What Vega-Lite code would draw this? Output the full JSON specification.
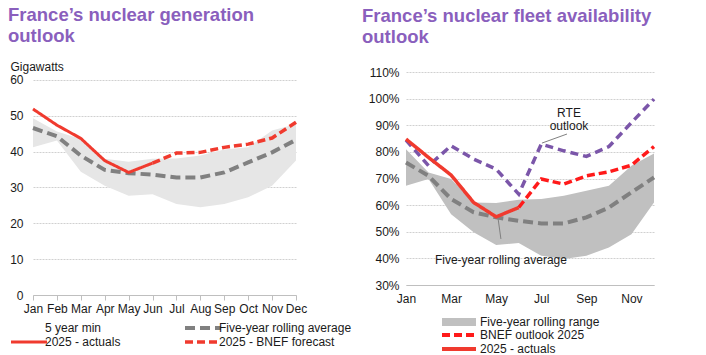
{
  "$schema": "https://vega.github.io/schema/vega-lite/v6.json",
  "padding": {"left": 7, "top": 5, "right": 0, "bottom": 0},
  "spacing": 10,
  "config": {
    "font": "Liberation Sans",
    "view": {"stroke": null},
    "axis": {"labelFontSize": 12, "labelColor": "#1a1a1a", "labelFont": "Liberation Sans", "titleFont": "Liberation Sans"},
    "legend": {"labelFontSize": 12, "labelColor": "#1a1a1a", "labelFont": "Liberation Sans", "padding": 0}
  },
  "resolve": {
    "scale": {"x": "independent", "y": "independent", "color": "independent", "fill": "independent", "strokeDash": "independent", "strokeWidth": "independent"},
    "legend": {"color": "independent", "fill": "independent", "strokeDash": "independent", "strokeWidth": "independent"}
  },
  "datasets": {
    "lband": [
      {"m": 1, "lo": 41.2, "v": 49.3}, {"m": 2, "lo": 43.1, "v": 45.6}, {"m": 3, "lo": 34.4, "v": 43.5},
      {"m": 4, "lo": 30.5, "v": 38.0}, {"m": 5, "lo": 27.7, "v": 37.2}, {"m": 6, "lo": 28.1, "v": 38.0},
      {"m": 7, "lo": 25.4, "v": 38.1}, {"m": 8, "lo": 24.5, "v": 38.9}, {"m": 9, "lo": 25.4, "v": 40.6},
      {"m": 10, "lo": 27.3, "v": 41.2}, {"m": 11, "lo": 30.5, "v": 45.9}, {"m": 12, "lo": 37.5, "v": 47.7}
    ],
    "llines": [
      {"s": "Five-year rolling average", "m": 1, "v": 46.6}, {"s": "Five-year rolling average", "m": 2, "v": 44.3},
      {"s": "Five-year rolling average", "m": 3, "v": 38.9}, {"s": "Five-year rolling average", "m": 4, "v": 34.9},
      {"s": "Five-year rolling average", "m": 5, "v": 34.0}, {"s": "Five-year rolling average", "m": 6, "v": 33.6},
      {"s": "Five-year rolling average", "m": 7, "v": 32.8}, {"s": "Five-year rolling average", "m": 8, "v": 32.8},
      {"s": "Five-year rolling average", "m": 9, "v": 34.2}, {"s": "Five-year rolling average", "m": 10, "v": 37.0},
      {"s": "Five-year rolling average", "m": 11, "v": 39.8}, {"s": "Five-year rolling average", "m": 12, "v": 43.3},
      {"s": "2025 - BNEF forecast", "m": 6, "v": 36.8}, {"s": "2025 - BNEF forecast", "m": 7, "v": 39.6},
      {"s": "2025 - BNEF forecast", "m": 8, "v": 39.8}, {"s": "2025 - BNEF forecast", "m": 9, "v": 41.2},
      {"s": "2025 - BNEF forecast", "m": 10, "v": 42.1}, {"s": "2025 - BNEF forecast", "m": 11, "v": 43.8},
      {"s": "2025 - BNEF forecast", "m": 12, "v": 48.2},
      {"s": "2025 - actuals", "m": 1, "v": 51.9}, {"s": "2025 - actuals", "m": 2, "v": 47.4},
      {"s": "2025 - actuals", "m": 3, "v": 43.7}, {"s": "2025 - actuals", "m": 4, "v": 37.5},
      {"s": "2025 - actuals", "m": 5, "v": 34.2}, {"s": "2025 - actuals", "m": 6, "v": 36.8}
    ],
    "rband": [
      {"m": 1, "lo": 67.3, "v": 81.0}, {"m": 2, "lo": 69.8, "v": 72.3}, {"m": 3, "lo": 56.6, "v": 69.8},
      {"m": 4, "lo": 49.8, "v": 61.0}, {"m": 5, "lo": 45.0, "v": 60.8}, {"m": 6, "lo": 45.8, "v": 62.0},
      {"m": 7, "lo": 41.0, "v": 62.3}, {"m": 8, "lo": 39.8, "v": 63.5}, {"m": 9, "lo": 41.0, "v": 65.4},
      {"m": 10, "lo": 44.1, "v": 67.3}, {"m": 11, "lo": 49.1, "v": 74.8}, {"m": 12, "lo": 61.0, "v": 79.4}
    ],
    "ravg": [
      {"m": 1, "v": 76.0}, {"m": 2, "v": 71.0}, {"m": 3, "v": 62.3}, {"m": 4, "v": 57.3}, {"m": 5, "v": 55.4}, {"m": 6, "v": 54.1},
      {"m": 7, "v": 53.1}, {"m": 8, "v": 53.1}, {"m": 9, "v": 55.4}, {"m": 10, "v": 59.1}, {"m": 11, "v": 64.8}, {"m": 12, "v": 70.4}
    ],
    "rrte": [
      {"m": 1, "v": 84.4}, {"m": 2, "v": 74.8}, {"m": 3, "v": 82.3}, {"m": 4, "v": 77.3}, {"m": 5, "v": 73.5}, {"m": 6, "v": 64.1},
      {"m": 7, "v": 82.9}, {"m": 8, "v": 80.4}, {"m": 9, "v": 78.3}, {"m": 10, "v": 82.0}, {"m": 11, "v": 91.0}, {"m": 12, "v": 99.8}
    ],
    "rlines": [
      {"s": "BNEF outlook 2025", "m": 6, "v": 59.1}, {"s": "BNEF outlook 2025", "m": 7, "v": 69.8},
      {"s": "BNEF outlook 2025", "m": 8, "v": 67.9}, {"s": "BNEF outlook 2025", "m": 9, "v": 71.0},
      {"s": "BNEF outlook 2025", "m": 10, "v": 72.5}, {"s": "BNEF outlook 2025", "m": 11, "v": 75.0},
      {"s": "BNEF outlook 2025", "m": 12, "v": 82.0},
      {"s": "2025 - actuals", "m": 1, "v": 84.8}, {"s": "2025 - actuals", "m": 2, "v": 77.9},
      {"s": "2025 - actuals", "m": 3, "v": 71.3}, {"s": "2025 - actuals", "m": 4, "v": 61.0},
      {"s": "2025 - actuals", "m": 5, "v": 55.6}, {"s": "2025 - actuals", "m": 6, "v": 59.1}
    ]
  },
  "hconcat": [
    {
      "width": 263,
      "height": 223,
      "title": {
        "text": ["France’s nuclear generation", "outlook"],
        "anchor": "start", "frame": "group", "dx": -25, "offset": 15,
        "fontSize": 18.5, "fontWeight": "bold", "color": "#8a5fbd", "lineHeight": 21, "font": "Liberation Sans"
      },
      "encoding": {
        "x": {"field": "m", "type": "quantitative", "scale": {"domain": [1, 12], "nice": false, "zero": false},
          "axis": {"values": [1,2,3,4,5,6,7,8,9,10,11,12], "labelExpr": "timeFormat(datetime(2025, datum.value - 1, 1), '%b')",
            "title": null, "grid": false, "domainColor": "#bfbfbf", "tickColor": "#bfbfbf", "tickSize": 5, "labelPadding": 3, "labelOverlap": false, "labelFlush": false}},
        "y": {"field": "v", "type": "quantitative", "scale": {"domain": [0, 62.23], "nice": false},
          "axis": {"values": [0,10,20,30,40,50,60], "title": "Gigawatts", "titleAngle": 0, "titleAlign": "left", "titleBaseline": "middle",
            "titleX": -23, "titleY": -6, "titleFontWeight": "normal", "titleFontSize": 12, "titleColor": "#1a1a1a",
            "domain": false, "ticks": false, "labelPadding": 10, "gridColor": "#d0d0d0", "gridDash": [2, 1]}}
      },
      "layer": [
        {
          "data": {"name": "lband"},
          "mark": {"type": "area", "color": "#e6e6e6"},
          "encoding": {"y2": {"field": "lo"}}
        },
        {
          "data": {"name": "llines"},
          "mark": {"type": "line"},
          "encoding": {
            "color": {"field": "s", "type": "nominal",
              "scale": {"domain": ["5 year min", "Five-year rolling average", "2025 - actuals", "2025 - BNEF forecast"],
                "range": ["#ffffff", "#808080", "#f03a2e", "#f03a2e"]},
              "legend": {"title": null, "orient": "none", "legendX": -26, "legendY": 250, "columns": 2, "direction": "horizontal",
                "symbolType": "M-1,0H17", "symbolSize": 16, "columnPadding": 56, "rowPadding": -3, "labelOffset": 26}},
            "strokeDash": {"field": "s", "type": "nominal",
              "scale": {"domain": ["5 year min", "Five-year rolling average", "2025 - actuals", "2025 - BNEF forecast"],
                "range": [[1, 0], [10, 5], [1, 0], [8, 4]]},
              "legend": {"title": null, "orient": "none", "legendX": -26, "legendY": 250, "columns": 2, "direction": "horizontal",
                "symbolType": "M-1,0H17", "symbolSize": 16, "columnPadding": 56, "rowPadding": -3, "labelOffset": 26}},
            "strokeWidth": {"field": "s", "type": "nominal",
              "scale": {"type": "ordinal", "domain": ["5 year min", "Five-year rolling average", "2025 - actuals", "2025 - BNEF forecast"],
                "range": [4, 4, 3, 3.5]},
              "legend": {"title": null, "orient": "none", "legendX": -26, "legendY": 250, "columns": 2, "direction": "horizontal",
                "symbolType": "M-1,0H17", "symbolSize": 16, "columnPadding": 56, "rowPadding": -3, "labelOffset": 26}}
          }
        }
      ]
    },
    {
      "width": 248,
      "height": 213,
      "title": {
        "text": ["France’s nuclear fleet availability", "outlook"],
        "anchor": "start", "frame": "group", "dx": -44, "offset": 20,
        "fontSize": 18.5, "fontWeight": "bold", "color": "#8a5fbd", "lineHeight": 21, "font": "Liberation Sans"
      },
      "encoding": {
        "x": {"field": "m", "type": "quantitative", "scale": {"domain": [1, 12], "nice": false, "zero": false},
          "axis": {"values": [1,3,5,7,9,11], "labelExpr": "timeFormat(datetime(2025, datum.value - 1, 1), '%b')",
            "title": null, "grid": false, "ticks": false, "domainColor": "#bfbfbf", "labelPadding": 8, "labelOverlap": false, "labelFlush": false}},
        "y": {"field": "v", "type": "quantitative", "scale": {"domain": [30, 110], "nice": false, "zero": false},
          "axis": {"values": [30,40,50,60,70,80,90,100,110], "labelExpr": "datum.value + '%'", "title": null,
            "domain": false, "ticks": false, "labelPadding": 7, "gridColor": "#d0d0d0", "gridDash": [2, 1]}}
      },
      "layer": [
        {
          "data": {"name": "rband"},
          "mark": {"type": "area"},
          "encoding": {
            "y2": {"field": "lo"},
            "fill": {"datum": "Five-year rolling range", "type": "nominal",
              "scale": {"domain": ["Five-year rolling range"], "range": ["#c0c0c0"]},
              "legend": {"title": null, "orient": "none", "legendX": 32, "legendY": 244, "symbolType": "M-1,-2H16V2H-1Z", "symbolSize": 16,
                "symbolStrokeWidth": 0, "labelOffset": 30}}
          }
        },
        {
          "data": {"name": "ravg"},
          "mark": {"type": "line", "color": "#808080", "strokeWidth": 4, "strokeDash": [10, 5]}
        },
        {
          "data": {"name": "rrte"},
          "mark": {"type": "line", "color": "#7b56a9", "strokeWidth": 3.5, "strokeDash": [8, 5]}
        },
        {
          "data": {"name": "rlines"},
          "mark": {"type": "line", "strokeWidth": 3.5},
          "encoding": {
            "color": {"field": "s", "type": "nominal",
              "scale": {"domain": ["BNEF outlook 2025", "2025 - actuals"], "range": ["#ff1a1a", "#f03a2e"]},
              "legend": {"title": null, "orient": "none", "legendX": 32, "legendY": 257, "symbolType": "M-1,0H16", "symbolSize": 16,
                "symbolStrokeWidth": 4, "rowPadding": -3, "labelOffset": 30}},
            "strokeDash": {"field": "s", "type": "nominal",
              "scale": {"domain": ["BNEF outlook 2025", "2025 - actuals"], "range": [[8, 4], [1, 0]]},
              "legend": {"title": null, "orient": "none", "legendX": 32, "legendY": 257, "symbolType": "M-1,0H16", "symbolSize": 16,
                "symbolStrokeWidth": 4, "rowPadding": -3, "labelOffset": 30}}
          }
        },
        {
          "data": {"values": [{"m": 8.14, "v": 86.7, "m2": 7.03, "v2": 83.3}, {"m": 5.08, "v": 55.2, "m2": 5.21, "v2": 47.3}]},
          "mark": {"type": "rule", "color": "#808080", "strokeWidth": 1},
          "encoding": {
            "x2": {"field": "m2"},
            "y2": {"field": "v2"}
          }
        },
        {
          "data": {"values": [{"m": 8.23, "v": 96.5, "t": "RTE\noutlook"}, {"m": 5.21, "v": 41.4, "t": "Five-year rolling average"}]},
          "mark": {"type": "text", "baseline": "top", "align": "center", "lineBreak": "\n", "lineHeight": 13, "fontSize": 12, "color": "#1a1a1a"},
          "encoding": {
            "text": {"field": "t"}
          }
        }
      ]
    }
  ]
}
